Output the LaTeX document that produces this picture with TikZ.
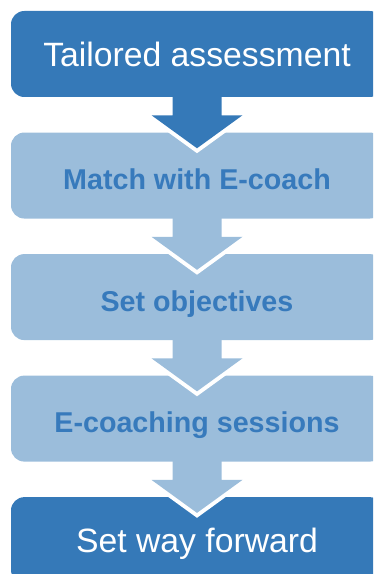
\documentclass[tikz,border=0pt]{standalone}
\usepackage{fontspec}
\setmainfont{Liberation Sans}
\usepackage{xcolor}
\usetikzlibrary{positioning,calc}

\definecolor{darkblue}{RGB}{53,121,184}
\definecolor{lightblue}{RGB}{155,189,219}
\definecolor{textblue}{RGB}{55,122,188}

\tikzset{
  darkbox/.style={fill=darkblue, rounded corners=10pt, minimum width=279pt, minimum height=64.5pt,
    inner sep=0pt, text=white, font=\fontsize{25.3}{28}\selectfont, text height=18.1pt, text depth=0pt},
  lightbox/.style={fill=lightblue, rounded corners=10pt, minimum width=279pt, minimum height=64.5pt,
    inner sep=0pt, text=textblue, font=\fontsize{21.5}{25}\selectfont\bfseries, text height=21.4pt, text depth=0pt}
}

\begin{document}
\begin{tikzpicture}[x=0.75pt, y=-0.75pt, node distance=26.25pt]
\useasboundingbox (0,0) rectangle (374,574);
\clip (0,0) rectangle (373,574);

% the five steps
\node[darkbox] (assess) at (197,54) {Tailored assessment};
\node[lightbox, below=of assess] (match) {Match with E-coach};
\node[lightbox, below=of match] (objectives) {Set objectives};
\node[lightbox, below=of objectives] (sessions) {E-coaching sessions};
\node[darkbox, below=of sessions] (forward) {Set way forward};

% block arrows between the steps
\foreach \a/\b/\c in {assess/match/darkblue, match/objectives/lightblue,
                      objectives/sessions/lightblue, sessions/forward/lightblue} {
  \draw[white, line width=6, line join=miter] ($(\a.south)+(-45.5,18)$) -- ($(\b.north)+(0,16)$) -- ($(\a.south)+(45.5,18)$);
  \fill[\c] ($(\a.south)+(-24.5,-1)$) -- ($(\a.south)+(-24.5,18)$) -- ($(\a.south)+(-45.5,18)$)
    -- ($(\b.north)+(0,16)$) -- ($(\a.south)+(45.5,18)$) -- ($(\a.south)+(24.5,18)$)
    -- ($(\a.south)+(24.5,-1)$) -- cycle;
}
\end{tikzpicture}
\end{document}
